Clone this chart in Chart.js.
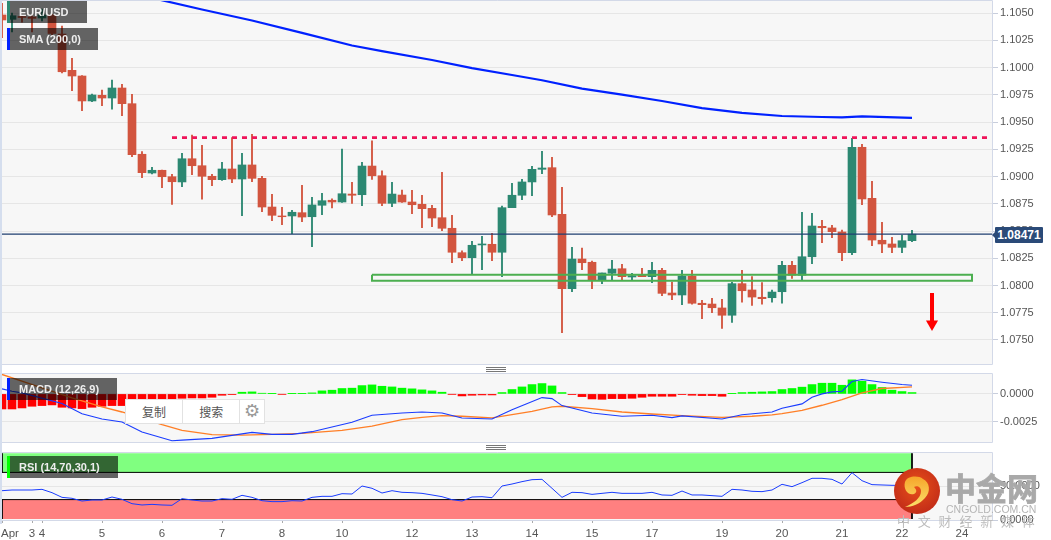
<!DOCTYPE html>
<html lang="en">
<head>
<meta charset="UTF-8" />
<title>EUR/USD daily</title>
<script src="https://cdn.jsdelivr.net/npm/chart.js@4.4.0/dist/chart.umd.min.js"></script>
<style>
  html, body { margin:0; padding:0; background:#fff; width:1051px; height:540px; overflow:hidden; font-family:"Liberation Sans",Arial,sans-serif; }
  canvas { position:absolute; left:0; }
  .strip { position:absolute; left:0; top:0; width:2px; height:524px; background:#d5deee; }
  .tag { position:absolute; left:7px; height:22px; line-height:22px; background:rgba(0,0,0,.6); color:#eee; font-size:11px; font-weight:bold; padding-left:9px; box-sizing:border-box; border-left:3px solid; z-index:5; }
  .handle { position:absolute; left:486px; width:20px; height:5px; background:repeating-linear-gradient(#777 0 1px,#fff 1px 2px); }
  .price { position:absolute; left:995px; top:227px; width:48px; height:16px; line-height:16px; background:#2a4a78; color:#fff; font-size:12px; font-weight:bold; text-align:center; border-radius:1px; z-index:5; }
  .price:before { content:""; position:absolute; left:-3px; top:5px; border:3px solid transparent; border-left:0; border-right-color:#2a4a78; }
  .popup { position:absolute; left:125px; top:399px; width:140px; height:25px; background:#fff; border:1px solid #e2e2e2; box-sizing:border-box; display:flex; z-index:6; color:#555; font:12px "Noto Sans CJK SC",sans-serif; line-height:23px; text-align:center; }
  .popup div { width:57px; border-right:1px solid #e2e2e2; }
  .popup div:last-child { width:24px; border:0; color:#999; font:18px "DejaVu Sans"; line-height:22px; }
  .wm { position:absolute; z-index:7; color:#a9a9a9; white-space:nowrap; }
</style>
</head>
<body>
<div class="strip"></div>
<canvas id="main" style="top:0"></canvas>
<canvas id="macd" style="top:373px"></canvas>
<canvas id="rsi" style="top:452px"></canvas>

<div class="tag" style="top:1px;width:80px;border-color:#2c8872">EUR/USD</div>
<div class="tag" style="top:28px;width:91px;border-color:#0021ff">SMA (200,0)</div>
<div class="tag" style="top:378px;width:110px;border-color:#0021ff">MACD (12,26,9)</div>
<div class="tag" style="top:456px;width:111px;border-color:#00ff00">RSI (14,70,30,1)</div>
<div class="handle" style="top:367px"></div>
<div class="handle" style="top:445px"></div>
<div class="price">1.08471</div>
<div class="popup"><div>复制</div><div>搜索</div><div>⚙</div></div>

<svg style="position:absolute;left:894px;top:468px;z-index:7" width="46" height="46">
  <defs>
    <radialGradient id="ball" cx="50%" cy="40%" r="60%"><stop offset="0" stop-color="#e8501a"/><stop offset="1" stop-color="#c22c18"/></radialGradient>
    <linearGradient id="swirl" x1="0" y1="0" x2="0" y2="1"><stop offset="0" stop-color="#f6a52a"/><stop offset="1" stop-color="#fbe06a"/></linearGradient>
  </defs>
  <circle cx="23" cy="23" r="23" fill="url(#ball)"/>
  <path d="M11 14 C13 8 24 7 29 11 C36 14 37 24 31 30 C26 36 18 39 11 39 C20 35 27 30 27 23 C27 19 23 17 20 19 C22 21 24 24 20 26 C14 28 9 21 11 14Z" fill="url(#swirl)"/>
</svg>
<div class="wm" style="left:945px;top:466px;font:bold 31px/42px 'Noto Sans CJK SC',sans-serif;-webkit-text-stroke:.8px #a9a9a9">中金网</div>
<div class="wm" style="left:946px;top:503px;font:10.5px/12px 'Liberation Sans',sans-serif;color:#b5b5b5">CNGOLD.COM.CN</div>
<div class="wm" style="left:897px;top:513px;font:13px/16px 'Noto Sans CJK SC',sans-serif;letter-spacing:7.8px;color:#bdbdbd">中文财经新媒体</div>

<script>
  // ── candles, one entry per session ──────────────────────────
  const opens = [1.10482,1.10442,1.10468,1.10463,1.10454,1.10482,1.10307,1.09974,1.09922,1.09693,
    1.09745,1.09720,1.09812,1.09668,1.09204,1.09032,1.09057,1.08998,1.08950,1.09163,
    1.09099,1.09002,1.08971,1.09069,1.08977,1.09106,1.08983,1.08720,1.08638,1.08638,
    1.08668,1.08631,1.08736,1.08782,1.08766,1.08839,1.08833,1.09096,1.09007,1.08754,
    1.08830,1.08766,1.08745,1.08708,1.08622,1.08525,1.08301,1.08255,1.08372,1.08378,
    1.08305,1.08714,1.08828,1.08950,1.09066,1.09081,1.08653,1.07971,1.08243,1.08213,
    1.08044,1.08112,1.08154,1.08078,1.08096,1.08081,1.08139,1.07931,1.07913,1.08087,
    1.07837,1.07830,1.07794,1.07727,1.08017,1.07959,1.07892,1.07888,1.07943,1.08185,
    1.08094,1.08264,1.08543,1.08528,1.08491,1.08301,1.09268,1.08800,1.08415,1.08381,
    1.08350,1.08411];
  const closes = [1.10436,1.10475,1.10459,1.10451,1.10482,1.10312,1.09961,1.09922,1.09693,1.09748,
    1.09720,1.09812,1.09668,1.09200,1.09035,1.09057,1.08998,1.08952,1.09163,1.09099,
    1.09002,1.08971,1.09069,1.08977,1.09106,1.08983,1.08720,1.08644,1.08631,1.08672,
    1.08628,1.08739,1.08778,1.08766,1.08842,1.08828,1.09096,1.09007,1.08754,1.08839,
    1.08766,1.08741,1.08705,1.08619,1.08525,1.08305,1.08255,1.08369,1.08381,1.08305,
    1.08714,1.08828,1.08950,1.09066,1.09078,1.08647,1.07971,1.08243,1.08209,1.08050,
    1.08115,1.08151,1.08081,1.08090,1.08081,1.08139,1.07928,1.07913,1.08087,1.07837,
    1.07824,1.07796,1.07727,1.08017,1.07952,1.07894,1.07879,1.07940,1.08185,1.08094,
    1.08264,1.08546,1.08530,1.08494,1.08301,1.09268,1.08794,1.08417,1.08381,1.08350,
    1.08411,1.08471];
  const highs = [1.10589,1.10500,1.10475,1.10475,1.10537,1.10491,1.10381,1.10084,1.09925,1.09757,
    1.09794,1.09885,1.09846,1.09754,1.09228,1.09084,1.09060,1.09020,1.09213,1.09381,
    1.09286,1.09020,1.09130,1.09356,1.09213,1.09387,1.09002,1.08837,1.08717,1.08690,
    1.08919,1.08809,1.08846,1.08794,1.09252,1.08947,1.09130,1.09328,1.09053,1.08947,
    1.08876,1.08873,1.08828,1.08736,1.09039,1.08644,1.08317,1.08406,1.08451,1.08479,
    1.08729,1.08938,1.08974,1.09094,1.09231,1.09176,1.08901,1.08350,1.08344,1.08225,
    1.08115,1.08231,1.08194,1.08112,1.08158,1.08213,1.08158,1.08032,1.08139,1.08139,
    1.07864,1.07883,1.07873,1.08029,1.08139,1.08081,1.08026,1.07959,1.08222,1.08222,
    1.08672,1.08662,1.08598,1.08552,1.08509,1.09350,1.09295,1.08956,1.08580,1.08442,
    1.08463,1.08506];
  const lows = [1.10273,1.10326,1.10417,1.10326,1.10427,1.10298,1.09950,1.09787,1.09604,1.09686,
    1.09650,1.09617,1.09558,1.09182,1.08989,1.09023,1.08897,1.08745,1.08906,1.09017,
    1.08791,1.08916,1.08965,1.08943,1.08640,1.08952,1.08677,1.08594,1.08558,1.08475,
    1.08585,1.08356,1.08650,1.08711,1.08763,1.08754,1.08732,1.08974,1.08732,1.08723,
    1.08763,1.08659,1.08530,1.08539,1.08503,1.08209,1.08228,1.08106,1.08145,1.08228,
    1.08081,1.08714,1.08787,1.08824,1.09026,1.08631,1.07567,1.07943,1.08145,1.07971,
    1.08017,1.08044,1.08053,1.08044,1.08081,1.08026,1.07906,1.07870,1.07824,1.07828,
    1.07695,1.07750,1.07607,1.07662,1.07846,1.07818,1.07828,1.07846,1.07837,1.08066,
    1.08050,1.08200,1.08393,1.08439,1.08228,1.08283,1.08741,1.08365,1.08301,1.08301,
    1.08301,1.08402];

  const smaIdx = [15,20,25,30,35,38,43,47,51,54,58,62,66,70,74,78,82,84,86,91];
  const smaVal = [1.10638,1.10532,1.10431,1.10318,1.10202,1.10151,1.10069,1.09995,1.09931,1.09883,
    1.09806,1.09751,1.09693,1.09628,1.09583,1.09555,1.09546,1.09543,1.09552,1.09537];

  const lastClose = 1.08471;
  const resistance = 1.09357;
  const resistanceIdx = [17, 98.6];
  const boxIdx = [37, 97, 97, 37, 37];
  const boxVal = [1.08099, 1.08099, 1.08044, 1.08044, 1.08099];
  const arrowIdx = 93;
  const arrowVal = [1.07931, 1.07674];
  const arrowHead = 1.07647;

  const priceTicks = [1.0750,1.0775,1.0800,1.0825,1.0850,1.0875,1.0900,1.0925,1.0950,1.0975,1.1000,1.1025,1.1050];

  // ── MACD ────────────────────────────────────────────────────
  const histVal = [-0.00134,-0.00134,-0.00125,-0.00110,-0.00104,-0.00098,-0.00119,-0.00125,-0.00131,-0.00119,
    -0.00110,-0.00104,-0.00104,-0.00090,-0.00075,-0.00065,-0.00055,-0.00045,-0.00039,-0.00036,
    -0.00036,-0.00030,-0.00012,-0.00006,0.00015,0.00018,0.00006,0.00002,-0.00003,0.00002,
    0.00002,0.00009,0.00027,0.00033,0.00048,0.00051,0.00074,0.00080,0.00068,0.00062,
    0.00051,0.00045,0.00036,0.00027,0.00015,-0.00003,-0.00018,-0.00012,-0.00009,-0.00009,
    0.00012,0.00039,0.00062,0.00083,0.00092,0.00071,0.00012,-0.00006,-0.00024,-0.00045,
    -0.00048,-0.00042,-0.00042,-0.00039,-0.00030,-0.00021,-0.00021,-0.00021,-0.00006,-0.00012,
    -0.00015,-0.00015,-0.00021,0.00002,0.00012,0.00015,0.00018,0.00021,0.00039,0.00048,
    0.00060,0.00083,0.00095,0.00095,0.00077,0.00125,0.00113,0.00083,0.00057,0.00033,
    0.00021,0.00012];
  const macdIdx = [0,1,2,6,8,10,12,14,17,18,21,23,25,27,29,31,35,37,40,42,44,46,49,51,54,55,56,59,62,65,67,68,72,74,77,78,80,81,82,83,84,85,86,88,90,91];
  const macdVal = [0.00045,0.00024,0.00009,-0.00086,-0.00176,-0.00223,-0.00250,-0.00339,-0.00417,-0.00411,
    -0.00396,-0.00369,-0.00342,-0.00360,-0.00360,-0.00336,-0.00253,-0.00190,-0.00170,-0.00161,
    -0.00170,-0.00214,-0.00223,-0.00140,-0.00033,-0.00042,-0.00104,-0.00170,-0.00199,-0.00190,
    -0.00211,-0.00196,-0.00223,-0.00185,-0.00161,-0.00128,-0.00089,-0.00030,0,0.00018,
    0.00024,0.00110,0.00128,0.00104,0.00083,0.00077];
  const signalIdx = [0,4,7,10,12,16,18,21,24,27,30,34,37,40,42,44,46,49,51,53,55,56,59,62,65,68,72,75,77,78,80,82,84,86,88,91];
  const signalVal = [0.00173,0.00054,-0.00036,-0.00116,-0.00161,-0.00274,-0.00324,-0.00363,-0.00366,-0.00360,
    -0.00351,-0.00324,-0.00286,-0.00229,-0.00208,-0.00193,-0.00199,-0.00214,-0.00185,-0.00155,
    -0.00116,-0.00110,-0.00131,-0.00161,-0.00179,-0.00193,-0.00208,-0.00199,-0.00187,-0.00176,
    -0.00146,-0.00101,-0.00051,0.00009,0.00048,0.00062];
  const macdTicks = [-0.0025, 0];

  // ── RSI ─────────────────────────────────────────────────────
  const rsiVal = [43.1,44.1,44.1,44.1,45.1,40.2,33.3,31.9,27.9,29.4,
    29.4,33.8,30.4,24.0,22.1,23.0,22.1,21.6,31.4,29.4,
    27.9,27.9,31.4,30.4,36.3,33.3,28.4,27.0,27.0,28.4,
    27.9,33.3,34.8,34.8,38.7,38.2,50.0,46.6,39.7,43.1,
    40.7,40.2,39.2,36.8,34.3,29.9,27.9,33.8,34.3,32.8,
    50.0,52.9,56.4,59.3,59.8,46.6,33.3,40.7,40.2,37.7,
    39.2,40.7,39.2,39.2,39.2,40.7,36.8,36.3,42.6,36.8,
    36.8,35.8,34.8,45.1,44.1,42.2,41.7,44.1,52.5,49.0,
    54.9,61.3,61.3,59.8,52.9,69.6,57.8,52.0,51.5,51.0,
    51.0,51.0];
  const rsiUpper = 70, rsiLower = 30, rsiTop = 98, rsiBottom = 1.5;
  const rsiLastIdx = 91;
  const rsiTicks = [0, 50];

  const xTickIdx = [0,0.8,3,4,10,16,22,28,34,41,47,53,59,65,72,78,84,90,96];
  const xTickLabels = ["","Apr","3","4","5","6","7","8","10","12","13","14","15","17","19","20","21","22","24"];

  // ── helpers ─────────────────────────────────────────────────
  const UP = '#2c8872', DOWN = '#d2553f';
  const xy = (xs, ys) => xs.map((x, i) => ({ x, y: ys[i] }));
  const idxs = opens.map((_, i) => i);
  const candleColors = idxs.map(i => closes[i] >= opens[i] ? UP : DOWN);
  const lineSet = (data, color, width, order, extra) => Object.assign({
    type: 'line', data, borderColor: color, borderWidth: width, pointRadius: 0, tension: 0, order, fill: false
  }, extra || {});
  const barSet = (data, color, thick, order) => ({
    type: 'bar', data, backgroundColor: color, barThickness: thick, grouped: false, borderWidth: 0, order
  });

  const panelPlugin = {
    id: 'panel',
    beforeDraw(chart) {
      const { ctx, chartArea: a } = chart;
      ctx.save();
      ctx.fillStyle = '#f7f7f7';
      ctx.fillRect(a.left, a.top, a.width, a.height);
      ctx.restore();
    },
    afterDraw(chart) {
      const { ctx, chartArea: a } = chart;
      ctx.save();
      ctx.strokeStyle = '#d3d9e8';
      ctx.lineWidth = 1;
      ctx.beginPath();
      ctx.moveTo(a.left, a.top + 0.5);
      ctx.lineTo(a.right + 0.5, a.top + 0.5);
      ctx.lineTo(a.right + 0.5, a.bottom + 0.5);
      ctx.lineTo(a.left, a.bottom + 0.5);
      ctx.stroke();
      ctx.restore();
    }
  };

  function makeChart(id, height, bottomSpace, datasets, yOpts, yTicks, showX) {
    const el = document.getElementById(id);
    el.width = 1051;
    el.height = height;
    return new Chart(el, {
      data: { datasets },
      plugins: [panelPlugin],
      options: {
        responsive: false,
        animation: false,
        events: [],
        layout: { autoPadding: false, padding: { left: 2, top: 0, right: 0, bottom: bottomSpace } },
        plugins: { legend: { display: false }, tooltip: { enabled: false } },
        scales: {
          x: {
            type: 'linear', min: 0, max: 99, display: showX, offset: false,
            afterBuildTicks: s => { s.ticks = xTickIdx.map(v => ({ value: v })); },
            afterFit: s => { s.paddingLeft = 0; s.paddingRight = 0; if (showX) s.height = 20; },
            grid: {
              offset: false, drawOnChartArea: false, tickLength: 3, drawTicks: true,
              tickColor: c => (c.tick && c.tick.value === 0.8) ? 'rgba(0,0,0,0)' : '#aaa'
            },
            border: { display: false },
            ticks: {
              autoSkip: false, maxRotation: 0, padding: 4, color: '#555',
              font: { family: '"Liberation Sans",Arial,sans-serif', size: 11.5 },
              callback: (v, i) => xTickLabels[i]
            }
          },
          y: Object.assign({
            position: 'right',
            afterBuildTicks: s => { s.ticks = yTicks.map(v => ({ value: v })); },
            afterFit: s => { s.width = 59; s.paddingTop = 0; s.paddingBottom = 0; },
            grid: { color: '#e6e6e6', tickColor: '#c8cedc', tickLength: 6 },
            border: { display: false },
            ticks: {
              padding: 2, color: '#555',
              font: { family: '"Liberation Sans",Arial,sans-serif', size: 11 },
              callback: v => v.toFixed(4)
            }
          }, yOpts)
        }
      }
    });
  }

  // ── price panel ─────────────────────────────────────────────
  makeChart('main', 365, 1, [
    barSet(xy(idxs, idxs.map(i => [lows[i], highs[i]])), candleColors, 1.2, 6),
    barSet(xy(idxs, idxs.map(i => [opens[i], closes[i]])), candleColors, 8, 5),
    lineSet(xy([0, 99], [lastClose, lastClose]), '#1f3f70', 1.3, 4),
    lineSet(xy(boxIdx, boxVal), '#4caf50', 2, 3),
    lineSet(xy(smaIdx, smaVal), '#0021ff', 2.2, 2),
    lineSet(xy(resistanceIdx, [resistance, resistance]), '#f0145a', 2.8, 1, { borderDash: [5, 5] }),
    lineSet(xy([arrowIdx, arrowIdx], arrowVal), '#ff0000', 4, 0),
    lineSet([{ x: arrowIdx, y: arrowHead }], '#ff0000', 0, 0, {
      pointRadius: 7, pointStyle: 'triangle', pointRotation: 180, pointBackgroundColor: '#ff0000', showLine: false
    })
  ], { min: 1.072798, max: 1.106193 }, priceTicks, false);

  // ── MACD panel ──────────────────────────────────────────────
  makeChart('macd', 70, 1, [
    barSet(xy(idxs, histVal), histVal.map(v => v >= 0 ? '#00ff00' : '#ff0000'), 8, 3),
    lineSet(xy(signalIdx, signalVal), '#ff7f27', 1.3, 2),
    lineSet(xy(macdIdx, macdVal), '#1a3cff', 1.1, 1)
  ], { min: -0.00428, max: 0.00186 }, macdTicks, false);

  // ── RSI panel ───────────────────────────────────────────────
  makeChart('rsi', 88, 0, [
    lineSet(xy([0, rsiLastIdx], [rsiUpper, rsiUpper]), '#000', 1, 4, { fill: { target: { value: rsiTop } }, backgroundColor: '#80ff80' }),
    lineSet(xy([0, rsiLastIdx], [rsiLower, rsiLower]), '#000', 1, 4, { fill: { target: { value: rsiBottom } }, backgroundColor: '#ff8080' }),
    lineSet(xy([0, 0], [rsiTop, rsiUpper]), '#000', 1, 3),
    lineSet(xy([0, 0], [rsiLower, rsiBottom]), '#000', 1, 3),
    lineSet(xy([rsiLastIdx, rsiLastIdx], [rsiTop, rsiBottom]), '#000', 1, 3),
    lineSet(xy(idxs, rsiVal), '#1a3cff', 1, 1)
  ], { min: 0, max: 100 }, rsiTicks, true);
</script>
</body>
</html>
